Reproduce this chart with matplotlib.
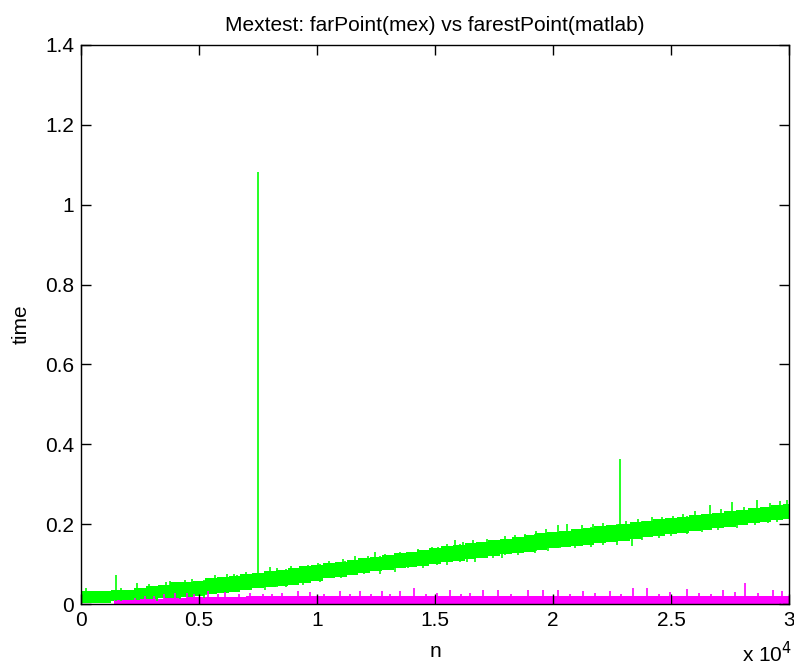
import numpy as np
import matplotlib
matplotlib.use("Agg")
import matplotlib.pyplot as plt

green_n = [0, 1000, 1500, 2000, 2500, 3000, 3500, 4000, 4500, 5000, 5500, 6000, 6500,
           7000, 7500, 8000, 8500, 9000, 9500, 10000, 10500, 11000, 11500, 12000,
           12500, 13000, 13500, 14000, 14500, 15000, 15500, 16000, 16500, 17000,
           17500, 18000, 18500, 19000, 19500, 20000, 20500, 21000, 21500, 22000,
           22500, 23000, 23500, 24000, 24500, 25000, 25500, 26000, 26500, 27000,
           27500, 28000, 28500, 29000, 29500, 30000]
green_lo = [0.002, 0.002, 0.008, 0.009, 0.010, 0.012, 0.014, 0.015, 0.017, 0.020, 0.024,
            0.027, 0.030, 0.035, 0.040, 0.042, 0.045, 0.048, 0.053, 0.057, 0.064,
            0.068, 0.073, 0.078, 0.082, 0.086, 0.090, 0.093, 0.096, 0.100, 0.104,
            0.108, 0.112, 0.116, 0.120, 0.124, 0.128, 0.131, 0.135, 0.139, 0.142,
            0.146, 0.149, 0.152, 0.155, 0.158, 0.163, 0.167, 0.171, 0.175, 0.178,
            0.182, 0.186, 0.190, 0.194, 0.198, 0.202, 0.206, 0.210, 0.214]
green_hi = [0.033, 0.033, 0.034, 0.036, 0.040, 0.044, 0.048, 0.055, 0.056, 0.058, 0.064,
            0.068, 0.071, 0.074, 0.078, 0.082, 0.086, 0.089, 0.094, 0.098, 0.103,
            0.106, 0.110, 0.114, 0.118, 0.123, 0.127, 0.131, 0.136, 0.140, 0.145,
            0.149, 0.152, 0.156, 0.160, 0.164, 0.169, 0.173, 0.177, 0.181, 0.184,
            0.187, 0.191, 0.195, 0.198, 0.201, 0.205, 0.208, 0.212, 0.215, 0.219,
            0.223, 0.226, 0.229, 0.233, 0.236, 0.240, 0.243, 0.247, 0.250]

# spikes above the band
green_up_n = [210, 1480, 1700, 2370, 2900, 3600, 3750, 4400, 4700, 5300, 5680, 6200,
              6500, 7000, 7500, 8000, 8300, 8900, 9600, 10040, 10500, 11100, 11600,
              12150, 12450, 12900, 13500, 13860, 14300, 14870, 15130, 15500, 15850,
              16200, 16600, 17200, 17970, 18400, 18800, 19300, 19700, 20200, 20600,
              21230, 21700, 22120, 22840, 23100, 23600, 24200, 24600, 25100, 25500,
              26000, 26650, 27100, 27600, 28100, 28650, 29200, 29600, 29900]
green_up_val = [0.040, 0.073, 0.040, 0.053, 0.050, 0.055, 0.057, 0.060, 0.062, 0.065,
                0.073, 0.074, 0.075, 0.080, 1.082, 0.093, 0.090, 0.095, 0.097, 0.102,
                0.108, 0.112, 0.121, 0.121, 0.130, 0.126, 0.130, 0.130, 0.138, 0.142,
                0.142, 0.150, 0.160, 0.156, 0.160, 0.163, 0.170, 0.172, 0.176, 0.183,
                0.187, 0.198, 0.200, 0.197, 0.200, 0.203, 0.363, 0.207, 0.212, 0.219,
                0.219, 0.221, 0.225, 0.232, 0.248, 0.238, 0.256, 0.244, 0.260, 0.252,
                0.258, 0.260]
# spikes below the band
green_dn_n = [3200, 4200, 5200, 6600, 7800, 8700, 9400, 10130, 11000, 11200, 12000,
              12670, 13300, 13860, 14500, 15080, 15500, 16060, 16350, 16700, 17450,
              17840, 18500, 19240, 19800, 20300, 20930, 21600, 22120, 22700, 23350,
              23770, 24500, 25000, 25680, 26300, 26990, 27800, 28560, 29100, 29500]
green_dn_val = [0.008, 0.012, 0.016, 0.030, 0.036, 0.042, 0.048, 0.056, 0.066, 0.068,
                0.074, 0.074, 0.081, 0.089, 0.090, 0.098, 0.098, 0.106, 0.106, 0.105,
                0.116, 0.116, 0.122, 0.128, 0.132, 0.139, 0.139, 0.143, 0.147, 0.148,
                0.145, 0.160, 0.165, 0.170, 0.176, 0.180, 0.185, 0.190, 0.198, 0.202,
                0.206]

# magenta = farPoint (mex)
mag_n = [1400, 2000, 3000, 4000, 5000, 6000, 8000, 10000, 15000, 20000, 25000, 30000]
mag_hi = [0.010, 0.011, 0.013, 0.015, 0.017, 0.018, 0.019, 0.019, 0.019, 0.019, 0.019, 0.019]
mag_up_n = [2300, 2700, 3100, 3500, 4000, 4500, 4800, 5380, 5800, 6100, 6700, 7160,
            7700, 8100, 8520, 9200, 9700, 10300, 10980, 11400, 11820, 12300, 12750,
            13100, 13520, 14110, 14600, 15100, 15640, 16100, 16500, 17030, 17670,
            18200, 18940, 19580, 20210, 20700, 21270, 21800, 22410, 22900, 23390,
            23980, 24500, 24960, 25680, 26200, 26700, 27200, 27700, 28140, 28700,
            29320, 29700]
mag_up_val = [0.016, 0.019, 0.020, 0.024, 0.027, 0.027, 0.024, 0.032, 0.026, 0.029,
              0.025, 0.027, 0.024, 0.026, 0.028, 0.032, 0.029, 0.025, 0.033, 0.026,
              0.032, 0.025, 0.032, 0.026, 0.032, 0.040, 0.026, 0.028, 0.035, 0.026,
              0.028, 0.035, 0.034, 0.026, 0.035, 0.034, 0.035, 0.026, 0.033, 0.027,
              0.033, 0.026, 0.039, 0.039, 0.026, 0.030, 0.037, 0.028, 0.026, 0.034,
              0.029, 0.052, 0.027, 0.034, 0.032]

x_ticks = [0, 5000, 10000, 15000, 20000, 25000, 30000]
x_ticklabels = ["0", "0.5", "1", "1.5", "2", "2.5", "3"]
y_ticks = [0, 0.2, 0.4, 0.6, 0.8, 1.0, 1.2, 1.4]
y_ticklabels = ["0", "0.2", "0.4", "0.6", "0.8", "1", "1.2", "1.4"]

plt.rcParams['font.family'] = ['Liberation Sans', 'DejaVu Sans']
fs = 15

fig = plt.figure(figsize=(7.94, 6.70), dpi=100)
ax = fig.add_axes([81 / 794, 66 / 670, 708 / 794, 559 / 670])

GREEN = (0, 1, 0)
MAG = (1, 0, 1)

ax.fill_between(green_n, green_lo, green_hi, step='mid', color=GREEN, lw=0)
base = np.interp(green_up_n, green_n, green_lo)
ax.vlines(green_up_n, base, green_up_val, color=GREEN, lw=1.2)
top = np.interp(green_dn_n, green_n, green_hi)
ax.vlines(green_dn_n, green_dn_val, top, color=GREEN, lw=1.2)

ax.fill_between(mag_n, 0, mag_hi, step='mid', color=MAG, lw=0)
ax.vlines(mag_up_n, 0, mag_up_val, color=MAG, lw=1.2)

ax.set_xlim(0, 30000)
ax.set_ylim(0, 1.4)
ax.set_xticks(x_ticks)
ax.set_xticklabels(x_ticklabels)
ax.set_yticks(y_ticks)
ax.set_yticklabels(y_ticklabels)
ax.tick_params(direction='in', length=7, width=1, top=True, right=True,
               labelsize=fs, pad=5)
for s in ax.spines.values():
    s.set_linewidth(1)

ax.set_title("Mextest: farPoint(mex) vs farestPoint(matlab)", fontsize=fs, pad=10)
ax.set_xlabel("n", fontsize=fs, labelpad=9)
ax.set_ylabel("time", fontsize=fs, labelpad=10)
fig.text(792 / 794, 4 / 670, r"x 10$^4$", ha='right', va='bottom', fontsize=fs)

fig.savefig("out.png", dpi=100)
